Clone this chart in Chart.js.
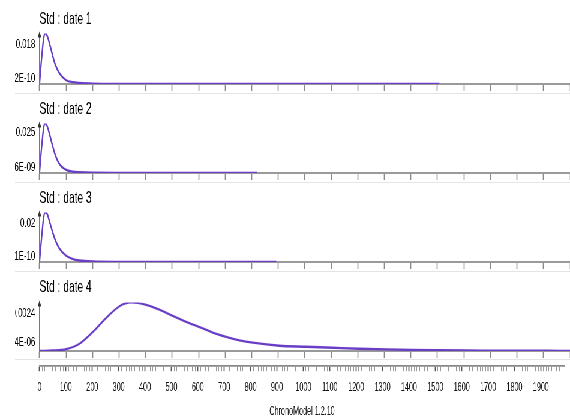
<!DOCTYPE html>
<html><head><meta charset="utf-8">
<script src="https://cdn.jsdelivr.net/npm/chart.js@4.4.1/dist/chart.umd.min.js"></script>
<style>
html,body{margin:0;padding:0;background:#fff;overflow:hidden;width:570px;height:420px;}
#wrap{position:absolute;left:0;top:0;width:950px;height:420px;transform:scaleX(0.6);transform-origin:0 0;}
canvas{position:absolute;}
</style></head><body>
<div id="wrap">
<canvas id="c1" width="925" height="94" style="left:25px;top:0px"></canvas>
<canvas id="c2" width="925" height="89" style="left:25px;top:94px"></canvas>
<canvas id="c3" width="925" height="89" style="left:25px;top:183px"></canvas>
<canvas id="c4" width="925" height="88" style="left:25px;top:272px"></canvas>
<canvas id="c5" width="925" height="120" style="left:25px;top:300px"></canvas>
</div>
<script>
// ---- data ----
const titles = ['Std : date 1', 'Std : date 2', 'Std : date 3', 'Std : date 4'];
const footer = 'ChronoModel 1.2.10';
const xMin = 0, xMax = 1990;

const date1X = [0,5,10,15,20,25,30,40,50,60,75,100,125,150,200,300,500,1000,1500];
const date1Y = [0,0.0059,0.0112,0.0158,0.0180,0.0178,0.0169,0.0135,0.0099,0.0067,0.0038,0.00135,0.00063,0.00036,0.00013,0.00003,0.000004,0,0];

const date2X = [0,5,10,15,20,25,30,40,50,60,75,100,125,150,200,300,500,816];
const date2Y = [0,0.0085,0.0158,0.0222,0.0250,0.0246,0.0232,0.0184,0.0133,0.0088,0.0045,0.0016,0.0007,0.0004,0.00013,0.00003,0.000004,0];

const date3X = [0,5,10,15,20,25,30,40,50,60,75,100,125,150,200,300,500,888];
const date3Y = [0,0.0064,0.0122,0.0174,0.0200,0.0199,0.0191,0.0154,0.0118,0.0086,0.0054,0.0025,0.0012,0.0006,0.0002,0.00005,0.000006,0];

const date4X = [0,50,100,150,200,250,300,343,400,450,500,550,600,650,700,750,800,900,1000,1100,1200,1300,1400,1500,1600,1700,1800,1900,1990];
const date4Y = [0,0.000024,0.000096,0.00036,0.00094,0.00163,0.00221,0.0024,0.00228,0.00204,0.00173,0.00144,0.00118,0.00091,0.0007,0.00053,0.00041,0.00026,0.00021,0.00016,0.00011,0.000077,0.000053,0.000038,0.000026,0.000019,0.000014,0.000012,0.00001];

const yMax = [0.018, 0.025, 0.02, 0.0024];
const yTickLabels1 = ['2E-10', '0.018'];
const yTickLabels2 = ['6E-09', '0.025'];
const yTickLabels3 = ['1E-10', '0.02'];
const yTickLabels4 = ['4E-06', '0.0024'];

// ---- style / layout ----
const FONT = "'Liberation Sans', Arial, Helvetica, sans-serif";
const PURPLE = '#6a3ec6';
const AXIS_W = 40.8;
const yLabelFrac = [[0.12,0.784],[0.106,0.82],[0.12,0.78],[0.17,0.78]];
const titlePad = [[9,4],[5,4],[5,4],[5,5]];
const bottomPad = [3,3,3,2];

const decor = {
  id:'decor',
  afterDraw(chart){
    const ctx = chart.ctx, a = chart.chartArea;
    ctx.save();
    ctx.strokeStyle = '#e4e4e4'; ctx.lineWidth = 1;
    ctx.beginPath(); ctx.moveTo(0, chart.height-0.5); ctx.lineTo(chart.width, chart.height-0.5); ctx.stroke();
    ctx.fillStyle = '#333';
    ctx.beginPath();
    ctx.moveTo(a.left, a.top-2);
    ctx.lineTo(a.left-3, a.top+4);
    ctx.lineTo(a.left+3, a.top+4);
    ctx.closePath(); ctx.fill();
    ctx.restore();
  }
};

function panel(i, xs, ys, labels){
  const data = xs.map((x,k)=>({x:x, y:ys[k]}));
  const fr = yLabelFrac[i], mx = yMax[i];
  new Chart(document.getElementById('c'+(i+1)), {
    type:'line',
    data:{datasets:[{data:data, borderColor:PURPLE, borderWidth:2.3, pointRadius:0, fill:false, cubicInterpolationMode:'monotone'}]},
    options:{
      responsive:false, animation:false, events:[], devicePixelRatio:1,
      layout:{padding:{left:0,right:0,top:0,bottom:bottomPad[i]}},
      plugins:{
        legend:{display:false}, tooltip:{enabled:false},
        title:{display:true, text:titles[i], align:'start', fullSize:false, color:'#000',
               font:{family:FONT, size:17, weight:'normal'}, padding:{top:titlePad[i][0], bottom:titlePad[i][1]}}
      },
      scales:{
        x:{type:'linear', min:xMin, max:xMax,
           afterFit:(s)=>{ s.height = 7; },
           ticks:{display:false, stepSize:100, maxTicksLimit:100, includeBounds:false},
           grid:{display:true, drawOnChartArea:false, drawTicks:true, tickLength:7, tickColor:'#8a8a8a', tickWidth:1.7},
           border:{display:true, color:'#9a9a9a', width:2}},
        y:{type:'linear', min:0, max:mx,
           afterBuildTicks:(s)=>{ s.ticks = fr.map(f=>({value:f*mx})); },
           afterFit:(s)=>{ s.width = AXIS_W; },
           ticks:{callback:(v,k)=>labels[k], padding:1, color:'#000', autoSkip:false, font:{family:FONT, size:13}},
           grid:{display:true, drawOnChartArea:false, drawTicks:true, tickLength:6, tickColor:'rgba(0,0,0,0)'},
           border:{display:true, color:'#777', width:1.7}}
      }
    },
    plugins:[decor]
  });
}

panel(0, date1X, date1Y, yTickLabels1);
panel(1, date2X, date2Y, yTickLabels2);
panel(2, date3X, date3Y, yTickLabels3);
panel(3, date4X, date4Y, yTickLabels4);

function isMajor(v){ const r = Math.round(v); return Math.abs(v-r) < 1e-6 && r % 100 === 0; }

new Chart(document.getElementById('c5'), {
  type:'line',
  data:{datasets:[{data:[]}]},
  options:{
    responsive:false, animation:false, events:[], devicePixelRatio:1,
    layout:{padding:{left:AXIS_W, right:0, top:0, bottom:0}},
    plugins:{legend:{display:false}, tooltip:{enabled:false}},
    scales:{
      x:{type:'linear', min:xMin, max:xMax,
         ticks:{stepSize:10, maxTicksLimit:1000, autoSkip:false, maxRotation:0, minRotation:0, includeBounds:false,
                padding:9, color:'#111', font:{family:FONT, size:12},
                callback:(v)=> isMajor(v) ? String(Math.round(v)) : ''},
         grid:{display:true, drawOnChartArea:false, drawTicks:true, tickLength:5,
               tickColor:(c)=> isMajor(c.tick.value) ? '#555' : '#9a9a9a',
               tickWidth:(c)=> isMajor(c.tick.value) ? 1.8 : 1},
         border:{display:true, color:'#888', width:1.7},
         title:{display:true, text:footer, color:'#111', font:{family:FONT, size:12}, padding:{top:1, bottom:1}}},
      y:{display:false, min:0, max:1}
    }
  }
});
</script>
</body></html>
